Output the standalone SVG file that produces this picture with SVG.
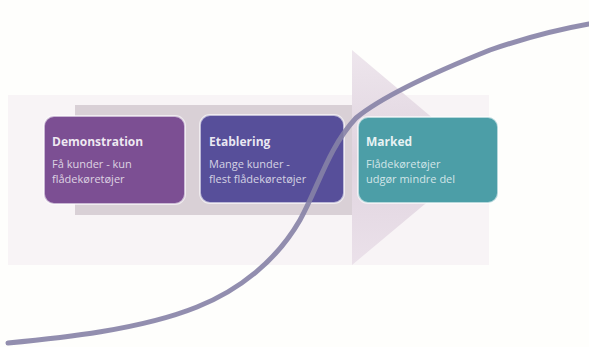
<svg xmlns="http://www.w3.org/2000/svg" width="589" height="347" viewBox="0 0 589 347">
  <defs>
    <style>
      .title { font-family: "Open Sans", "Liberation Sans", sans-serif; font-weight: bold; font-size: 12px; fill: #ffffff; fill-opacity: 0.88; }
      .body { font-family: "Open Sans", "Liberation Sans", sans-serif; font-size: 11px; fill: #ffffff; fill-opacity: 0.75; }
      .box { stroke: #ffffff; stroke-opacity: 0.6; stroke-width: 2; }
    </style>
    <linearGradient id="headGrad" x1="0" y1="0" x2="0" y2="1">
      <stop offset="0" stop-color="#eee6ed"/>
      <stop offset="0.5" stop-color="#e0d4df"/>
      <stop offset="1" stop-color="#ebe1ea"/>
    </linearGradient>
  </defs>
  <rect x="0" y="0" width="589" height="347" fill="#fefefc"/>
  <rect x="8" y="95" width="481" height="170" fill="#f8f4f6"/>

  <g id="arrow">
    <rect x="75" y="105" width="278" height="110" fill="#d9d0d6"/>
    <polygon points="352,50 480,158 352,265" fill="url(#headGrad)"/>
  </g>

  <g id="demonstration">
    <rect class="box" x="44" y="116" width="141" height="88" rx="10" fill="#7c4f93"/>
    <text class="title" x="52" y="146">Demonstration</text>
    <text class="body" x="52" y="168">Få kunder - kun</text>
    <text class="body" x="52" y="183">flådekøretøjer</text>
  </g>

  <g id="etablering">
    <rect class="box" x="200" y="115" width="144" height="88" rx="10" fill="#574f9a"/>
    <text class="title" x="209" y="146">Etablering</text>
    <text class="body" x="209" y="168">Mange kunder -</text>
    <text class="body" x="209" y="183">flest flådekøretøjer</text>
  </g>

  <g id="marked">
    <rect class="box" x="358" y="117" width="140" height="86" rx="10" fill="#4c9ea7"/>
    <text class="title" x="366" y="146">Marked</text>
    <text class="body" x="366" y="168">Flådekøretøjer</text>
    <text class="body" x="366" y="183">udgør mindre del</text>
  </g>

  <g id="connectors">
    <path d="M8,343 C60,338 140,330 197,307 C240,290 277,260 300,220 C318,188 328,148 356,118 C385,94 440,70 490,50 C522,39 555,30 589,24" fill="none" stroke="#8682a6" stroke-width="5" stroke-linecap="round" stroke-opacity="0.9"/>
  </g>
</svg>
